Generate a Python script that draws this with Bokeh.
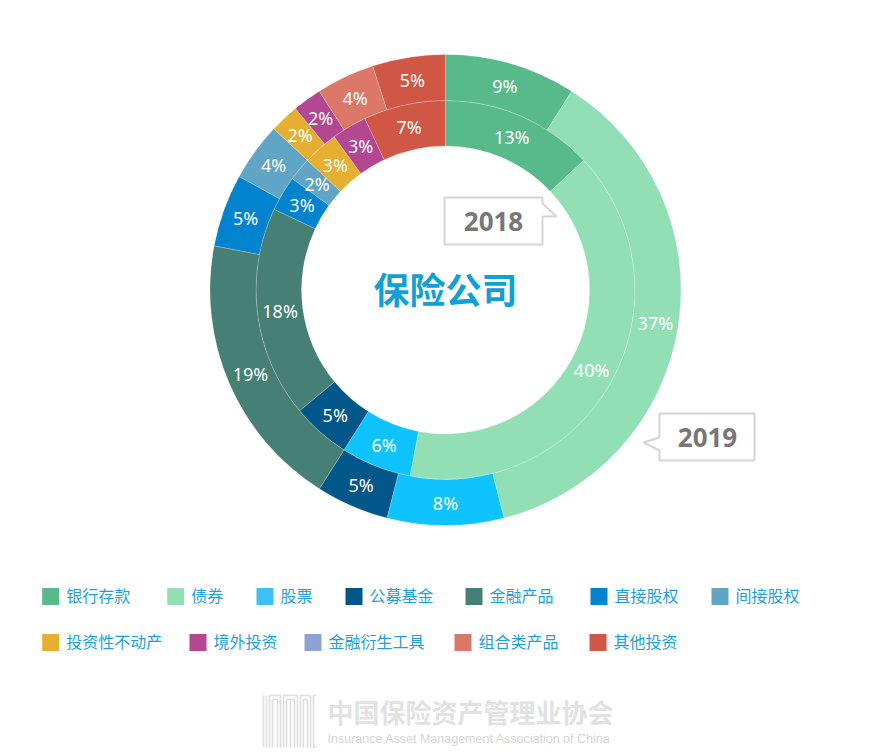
import numpy as np
from bokeh.plotting import figure
from bokeh.models import Range1d, ColumnDataSource
from bokeh.core.properties import value
from bokeh.embed import file_html
from bokeh.resources import INLINE

# ---------------- data ----------------
categories = ["银行存款", "债券", "股票", "公募基金", "金融产品", "直接股权",
              "间接股权", "投资性不动产", "境外投资", "金融衍生工具", "组合类产品", "其他投资"]
share_2018 = [13, 40, 6, 5, 18, 3, 2, 3, 3, 0, 0, 7]   # inner ring (%)
share_2019 = [9, 37, 8, 5, 19, 5, 4, 2, 2, 0, 4, 5]    # outer ring (%)
years = ["2018", "2019"]
center_title = "保险公司"
org_cn = "中国保险资产管理业协会"
org_en = "Insurance Asset Management Association of China"

# ---------------- styles / layout ----------------
colors = ["#58b98a", "#92dfb5", "#0fc4fe", "#02578a", "#467f74", "#0183d0",
          "#60a5c5", "#e6af31", "#b34791", "#8ca3d3", "#db7868", "#d05646"]
legend_colors = ["#58b98a", "#92dfb5", "#3ec0f2", "#02578a", "#467f74", "#0183d0",
                 "#60a5c5", "#e6af31", "#b34791", "#8ca3d3", "#db7868", "#d05646"]
W, H = 891, 752
CX, CY_PX = 445, 289.5
R_IN, R_MID, R_OUT = 144, 189.5, 235.5

def fy(ypx):
    return H - ypx

CY = fy(CY_PX)

p = figure(width=W, height=H, x_range=Range1d(0, W), y_range=Range1d(0, H),
           output_backend="svg", toolbar_location=None, min_border=0,
           x_axis_type=None, y_axis_type=None)
p.outline_line_color = None
p.background_fill_color = "white"
p.border_fill_color = "white"

def ring(vals, r0, r1):
    v = np.array(vals, dtype=float)
    frac = v / v.sum()
    cum = np.concatenate([[0.0], np.cumsum(frac)])
    start = np.pi / 2 - 2 * np.pi * cum[1:]
    end = np.pi / 2 - 2 * np.pi * cum[:-1]
    keep = v > 0
    src = ColumnDataSource(dict(
        start=start[keep], end=end[keep],
        color=[c for c, k in zip(colors, keep) if k],
    ))
    p.annular_wedge(x=CX, y=CY, inner_radius=r0, outer_radius=r1,
                    start_angle="start", end_angle="end", direction="anticlock",
                    fill_color="color", line_color="white", line_alpha=0.2,
                    line_width=1, source=src)
    mid = (start + end) / 2
    rm = (r0 + r1) / 2
    lsrc = ColumnDataSource(dict(
        x=(CX + rm * np.cos(mid))[keep],
        y=(CY + rm * np.sin(mid))[keep],
        t=[f"{int(x)}%" for x in v[keep]],
    ))
    p.text(x="x", y="y", text="t", source=lsrc, text_color="white",
           text_font=value("Noto Sans"), text_font_size="18px",
           text_align="center", text_baseline="middle")

ring(share_2018, R_IN, R_MID)
ring(share_2019, R_MID, R_OUT)

# center title
p.text(x=[CX], y=[CY + 2], text=[center_title], text_color="#119fda",
       text_font=value("Noto Sans CJK SC"), text_font_style="bold",
       text_font_size="36px", text_align="center", text_baseline="middle")

# callouts
b18_x = [444, 542, 542, 556, 542, 542, 444]
b18_y = [197, 197, 203, 216, 216, 244, 244]
p.patch(b18_x, [fy(y) for y in b18_y], fill_color="white",
        line_color="#d5d5d5", line_width=2)
b19_x = [659, 754, 754, 659, 659, 643, 659]
b19_y = [413, 413, 460, 460, 450, 442, 437]
p.patch(b19_x, [fy(y) for y in b19_y], fill_color="white",
        line_color="#d5d5d5", line_width=2)
p.text(x=[493, 707], y=[fy(221), fy(437)], text=years, text_color="#777777",
       text_font=value("Noto Sans"), text_font_style="bold",
       text_font_size="26px", text_align="center", text_baseline="middle")

# legend
leg_x = [41.7, 166.7, 256, 345, 465, 590, 711, 41.7, 189, 304, 454, 589]
leg_y = [596] * 7 + [642] * 5
sw = 17
p.rect(x=[x + sw / 2 for x in leg_x], y=[fy(y) for y in leg_y], width=sw, height=sw,
       fill_color=legend_colors, line_color=None)
p.text(x=[x + 24 for x in leg_x], y=[fy(y - 2) for y in leg_y], text=categories,
       text_color="#1d9fdb", text_font=value("Noto Sans CJK SC"),
       text_font_size="16px", text_align="left", text_baseline="middle")

# watermark logo (decorative)
logo_c = "#dedede"
xs, ys = [], []
def vline(x, y0, y1):
    xs.append([x, x]); ys.append([fy(y0), fy(y1)])
def arch(x0, x1, top, bottom=747):
    xs.append([x0, x0, x1, x1]); ys.append([fy(bottom), fy(top), fy(top), fy(bottom)])
vline(263, 695, 747)
vline(266, 695, 747)
arch(269, 280, 695)
arch(272, 277, 699)
arch(283, 297, 695)
vline(290, 699, 747)
arch(286, 294, 699)
arch(300, 310, 695)
arch(303, 307, 699)
xs.append([316, 313, 313, 316]); ys.append([fy(695), fy(695), fy(747), fy(747)])
p.multi_line(xs, ys, line_color=logo_c, line_width=1.6)

p.text(x=[327], y=[fy(711)], text=[org_cn], text_color="#e2e2e2",
       text_font=value("Noto Sans CJK SC"), text_font_style="bold",
       text_font_size="26px", text_align="left", text_baseline="middle")
p.text(x=[327], y=[fy(738)], text=[org_en], text_color="#d6d6d6",
       text_font=value("Liberation Sans"), text_font_size="12.5px",
       text_align="left", text_baseline="middle")

open("out.html", "w").write(file_html(p, INLINE))
